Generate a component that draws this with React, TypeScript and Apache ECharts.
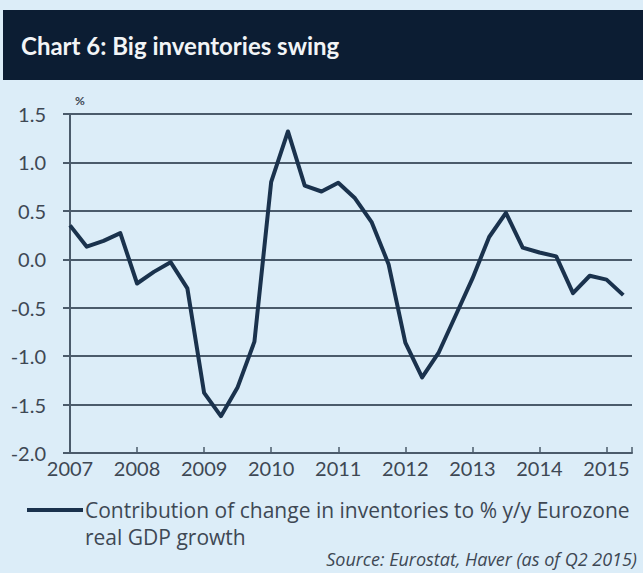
import React, { useEffect, useRef } from "react";
import * as echarts from "echarts";

const quarters: number[] = [
  2007.0, 2007.25, 2007.5, 2007.75,
  2008.0, 2008.25, 2008.5, 2008.75,
  2009.0, 2009.25, 2009.5, 2009.75,
  2010.0, 2010.25, 2010.5, 2010.75,
  2011.0, 2011.25, 2011.5, 2011.75,
  2012.0, 2012.25, 2012.5, 2012.75,
  2013.0, 2013.25, 2013.5, 2013.75,
  2014.0, 2014.25, 2014.5, 2014.75,
  2015.0, 2015.25,
];
const inventories: number[] = [
  0.35, 0.13, 0.19, 0.27,
  -0.25, -0.13, -0.03, -0.3,
  -1.38, -1.62, -1.32, -0.85,
  0.8, 1.32, 0.76, 0.7,
  0.79, 0.63, 0.38, -0.05,
  -0.86, -1.22, -0.96, -0.58,
  -0.2, 0.23, 0.48, 0.12,
  0.07, 0.03, -0.35, -0.17,
  -0.21, -0.37,
];
const yTicks = { min: -2.0, max: 1.5, step: 0.5 };
const xTicks = { min: 2007, max: 2015.38, step: 1 };

const titleText = "Chart 6: Big inventories swing";
const legendLine1 = "Contribution of change in inventories to % y/y Eurozone";
const legendLine2 = "real GDP growth";
const sourceText = "Source: Eurostat, Haver (as of Q2 2015)";
const unitText = "%";

export default function App() {
  const ref = useRef<HTMLDivElement>(null);
  useEffect(() => {
    document.body.style.margin = "0";
    const chart = echarts.init(ref.current!, null, { renderer: "svg" });
    const font = "Lato, 'Open Sans', sans-serif";
    const font2 = "'Open Sans', Lato, sans-serif";
    const lineColor = "#1a324d";
    const gridColor = "#4b5b6b";
    const textColor = "#3e4854";
    chart.setOption({
      animation: false,
      backgroundColor: "#dcedf8",
      textStyle: { fontFamily: font },
      grid: { left: 70, right: 11, top: 114, bottom: 120 },
      xAxis: {
        type: "value",
        min: xTicks.min,
        max: xTicks.max,
        interval: xTicks.step,
        axisLine: { show: true, onZero: false, lineStyle: { color: gridColor, width: 2 } },
        axisTick: { show: true, inside: true, length: 6, lineStyle: { color: gridColor, width: 1.5 } },
        axisLabel: {
          color: textColor,
          fontSize: 20,
          fontFamily: font,
          margin: 5,
          formatter: (v: number) => (Number.isInteger(v) ? String(v) : ""),
        },
        splitLine: { show: false },
      },
      yAxis: {
        type: "value",
        min: yTicks.min,
        max: yTicks.max,
        interval: yTicks.step,
        axisLine: { show: true, lineStyle: { color: gridColor, width: 2 } },
        axisTick: { show: true, length: 7, lineStyle: { color: gridColor, width: 2 } },
        axisLabel: {
          color: textColor,
          fontSize: 20,
          fontFamily: font,
          margin: 24,
          formatter: (v: number) => v.toFixed(1),
        },
        splitLine: { show: true, lineStyle: { color: gridColor, width: 2 } },
      },
      series: [
        {
          type: "line",
          data: quarters.map((q, i) => [q, inventories[i]]),
          showSymbol: false,
          lineStyle: { color: lineColor, width: 4, join: "round" },
          z: 5,
        },
      ],
      graphic: [
        { type: "rect", shape: { x: 3, y: 10, width: 640, height: 70 }, style: { fill: "#0c1d33" }, z: 10 },
        {
          type: "text",
          x: 21,
          y: 45,
          style: {
            text: titleText,
            fill: "#f2f4f6",
            font: `bold 24px ${font}`,
            textVerticalAlign: "middle",
          },
          z: 11,
        },
        {
          type: "text",
          x: 75,
          y: 100,
          style: { text: unitText, fill: textColor, font: `bold 12px ${font}`, textVerticalAlign: "middle" },
        },
        {
          type: "line",
          shape: { x1: 27, y1: 510, x2: 83, y2: 510 },
          style: { stroke: lineColor, lineWidth: 4 },
        },
        {
          type: "text",
          x: 85,
          y: 510,
          style: { text: legendLine1, fill: textColor, font: `21px ${font2}`, textVerticalAlign: "middle" },
        },
        {
          type: "text",
          x: 85,
          y: 537,
          style: { text: legendLine2, fill: textColor, font: `21px ${font2}`, textVerticalAlign: "middle" },
        },
        {
          type: "text",
          x: 637,
          y: 559,
          style: {
            text: sourceText,
            fill: textColor,
            font: `italic 18px ${font2}`,
            textAlign: "right",
            textVerticalAlign: "middle",
          },
        },
      ],
    });
    return () => chart.dispose();
  }, []);
  return <div ref={ref} style={{ width: 643, height: 573 }} />;
}
